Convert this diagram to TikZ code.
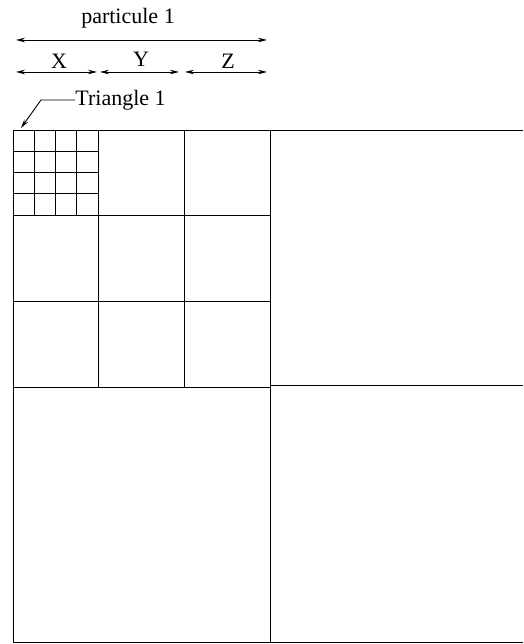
\documentclass[tikz,border=0pt]{standalone}
\usepackage{fontspec}
\setmainfont{Liberation Serif}
\usetikzlibrary{arrows.meta, positioning}

\begin{document}
\begin{tikzpicture}[x=1pt, y=-1pt, line width=0.9pt,
  lbl/.style={font=\fontsize{22}{25}\selectfont, inner sep=0pt},
  dim/.style={{Stealth[length=9pt, width=4.5pt]}-{Stealth[length=9pt, width=4.5pt]}},
  ptr/.style={-{Stealth[length=9pt, width=4.5pt]}}]
  \useasboundingbox (0,0) rectangle (523,644);
  % cells
  \draw (13,130) -- (523,130);
  \draw (13,642) -- (523,642);
  \draw (13,130) -- (13,642);
  \draw (270,130) -- (270,642);
  \draw (13,387) -- (270,387);
  \draw (270,385) -- (523,385);
  \foreach \x in {98,184} \draw (\x,130) -- (\x,387);
  \foreach \y in {215,301} \draw (13,\y) -- (270,\y);
  \foreach \i in {1,2,3} {
    \draw ({13+\i*85/4},130) -- ({13+\i*85/4},215);
    \draw (13,{130+\i*85/4}) -- (98,{130+\i*85/4});
  }
  % dimensions
  \node[lbl] (part) at (128,18) {particule 1};
  \coordinate (pL) at (16,40);
  \coordinate (pR) at (267,40);
  \draw[dim] (pL) -- (pR);
  \node[lbl] (lx) at (59,61) {X};
  \node[lbl] (ly) at (141,59) {Y};
  \node[lbl] (lz) at (228,61) {Z};
  \coordinate (xL) at (16,72);
  \coordinate (xR) at (97,72);
  \coordinate (yL) at (100,72);
  \coordinate (yR) at (179,72);
  \coordinate (zL) at (185,72);
  \coordinate (zR) at (267,72);
  \foreach \a/\b in {xL/xR, yL/yR, zL/zR} \draw[dim] (\a) -- (\b);
  % leader
  \node[lbl, anchor=west] (tri) at (75,100) {Triangle 1};
  \coordinate (knee) at (41,100);
  \coordinate (tip) at (21,128);
  \draw[ptr] (tri.west) -- (knee) -- (tip);
\end{tikzpicture}
\end{document}
